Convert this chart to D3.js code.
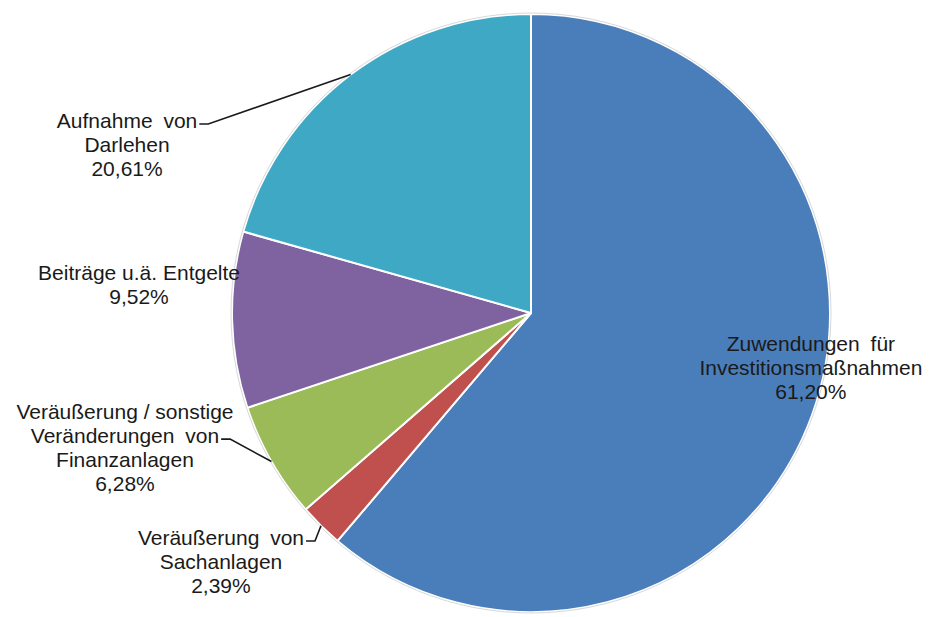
<!DOCTYPE html>
<html>
<head>
<meta charset="utf-8">
<script src="https://cdn.jsdelivr.net/npm/d3@7"></script>
<style>
  html, body { margin: 0; padding: 0; background: #fff; }
  svg { display: block; }
</style>
</head>
<body>
<svg id="chart" width="932" height="617"></svg>
<script>
// ---- data ----
const categories = [
  "Zuwendungen für Investitionsmaßnahmen",
  "Veräußerung von Sachanlagen",
  "Veräußerung / sonstige Veränderungen von Finanzanlagen",
  "Beiträge u.ä. Entgelte",
  "Aufnahme von Darlehen"
];
const labelLines = [
  ["Zuwendungen für", "Investitionsmaßnahmen"],
  ["Veräußerung von", "Sachanlagen"],
  ["Veräußerung / sonstige", "Veränderungen von", "Finanzanlagen"],
  ["Beiträge u.ä. Entgelte"],
  ["Aufnahme von", "Darlehen"]
];
const values = [61.20, 2.39, 6.28, 9.52, 20.61];
const valueLabels = ["61,20%", "2,39%", "6,28%", "9,52%", "20,61%"];

// ---- styling / layout ----
const colors = ["#4A7EBB", "#C0504D", "#9BBB59", "#7F62A0", "#3FA9C5"];
const W = 932, H = 617;
const cx = 531, cy = 313, R = 299;
// label centre offsets in units of the radius, and which line carries a leader
const labelLayout = [
  { kx: 0.936, ky: 0.184, leaderLine: -1 },
  { kx: -1.037, ky: 0.833, leaderLine: 0 },
  { kx: -1.358, ky: 0.452, leaderLine: 1 },
  { kx: -1.311, ky: -0.095, leaderLine: -1 },
  { kx: -1.351, ky: -0.562, leaderLine: 0 }
];
const wideSpacing = new Set(["Zuwendungen für", "Aufnahme von", "Veränderungen von", "Veräußerung von"]);
const fontSize = 21, lineH = 24;

const svg = d3.select("#chart");
const g = svg.append("g").attr("transform", `translate(${cx},${cy})`);

const pie = d3.pie().sort(null).value(d => d);
const arcs = pie(values);
const arc = d3.arc().innerRadius(0).outerRadius(R);

g.selectAll("path.slice")
  .data(arcs)
  .join("path")
  .attr("class", "slice")
  .attr("d", arc)
  .attr("fill", (d, i) => colors[i])
  .attr("stroke", "#fff")
  .attr("stroke-width", 2)
  .attr("stroke-linejoin", "round");

// faint outer rim
g.append("circle").attr("r", R + 1).attr("fill", "none")
  .attr("stroke", "#d8d8d8").attr("stroke-width", 1);

const labels = g.append("g")
  .attr("font-family", "'Liberation Sans', Arial, sans-serif")
  .attr("font-size", fontSize)
  .attr("fill", "#1a1a1a")
  .attr("text-anchor", "middle");

arcs.forEach((a, i) => {
  const lay = labelLayout[i];
  const lines = labelLines[i].concat([valueLabels[i]]);
  const lx = lay.kx * R, ly = lay.ky * R;
  const y0 = ly - (lines.length - 1) * lineH / 2;
  const texts = lines.map((t, j) =>
    labels.append("text")
      .attr("x", lx)
      .attr("y", y0 + j * lineH)
      .attr("dy", "0.35em")
      .attr("word-spacing", wideSpacing.has(t) ? 5 : 0)
      .text(t)
  );
  if (lay.leaderLine >= 0) {
    const tnode = texts[lay.leaderLine].node();
    const bb = tnode.getBBox();
    const sx = bb.x + bb.width + 2;
    const sy = y0 + lay.leaderLine * lineH + 3;
    const mid = (a.startAngle + a.endAngle) / 2;
    const ex = Math.sin(mid) * R, ey = -Math.cos(mid) * R;
    const elbowX = sx + 9;
    g.append("path")
      .attr("d", d3.line()([[sx, sy], [elbowX, sy], [ex, ey]]))
      .attr("fill", "none")
      .attr("stroke", "#1a1a1a")
      .attr("stroke-width", 1.6);
  }
});
</script>
</body>
</html>
